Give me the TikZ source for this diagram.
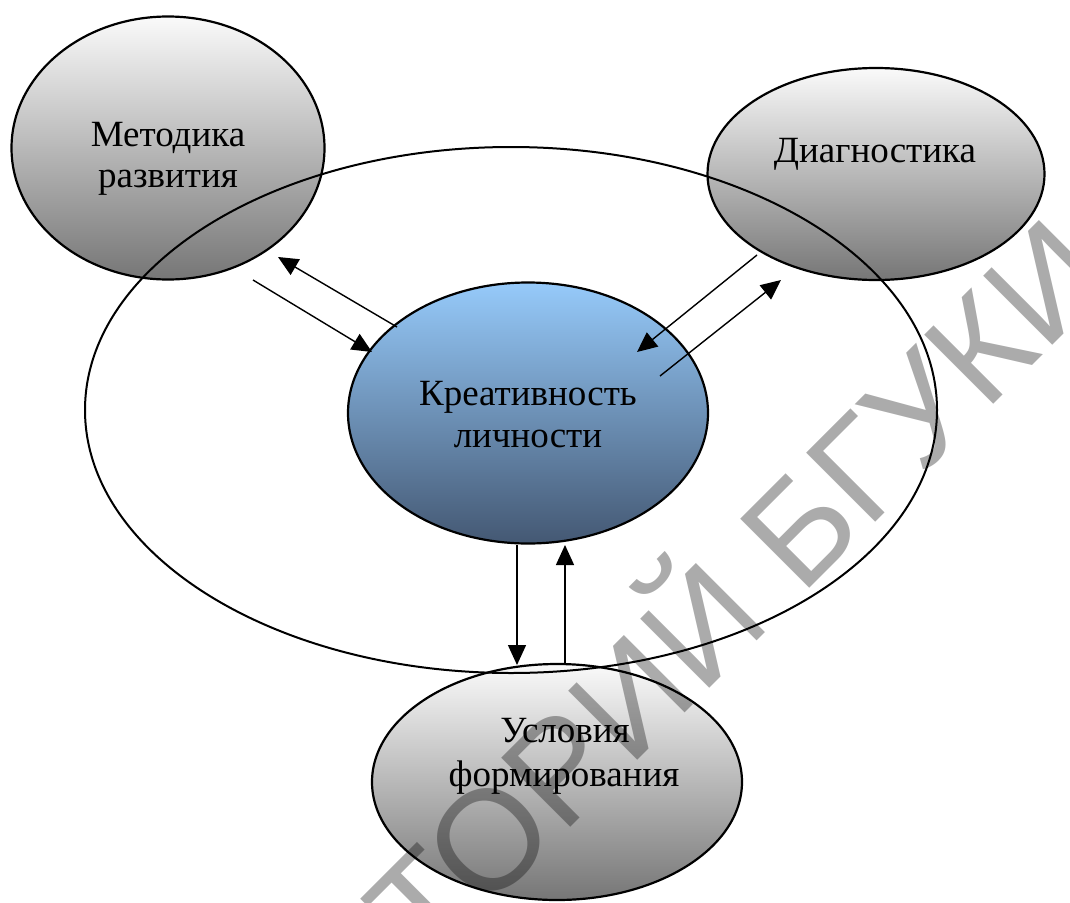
\documentclass[tikz,border=0pt]{standalone}
\usepackage{fontspec}
\setmainfont{Liberation Serif}
\newfontfamily\wmfont{Liberation Sans}
\usetikzlibrary{arrows.meta,shapes.geometric}
\definecolor{gtop}{RGB}{250,250,250}
\definecolor{gbot}{RGB}{118,118,118}
\definecolor{btop}{RGB}{150,202,250}
\definecolor{bbot}{RGB}{68,88,115}
\begin{document}
\begin{tikzpicture}[x=1pt,y=-1pt,
 oval/.style={ellipse, draw=black, line width=2.2pt, inner sep=0pt},
 grayoval/.style={oval, top color=gtop, bottom color=gbot},
 blueoval/.style={oval, top color=btop, bottom color=bbot},
 lbl/.style={anchor=base, inner sep=0pt, font=\fontsize{37}{44}\selectfont},
 arr/.style={line width=1.4pt, -{Triangle[length=20pt,width=18pt]}},
]
\useasboundingbox[fill=white] (0,0) rectangle (1070,902);
% gray ellipses
\node[grayoval, minimum width=313pt, minimum height=263pt] (met) at (168,148) {};
\node[grayoval, minimum width=337pt, minimum height=212pt] (diag) at (876,174) {};
\node[grayoval, minimum width=370pt, minimum height=236pt] (usl) at (557,782) {};
% outer ellipse
\node[ellipse, draw=black, line width=2pt, inner sep=0pt, minimum width=852pt, minimum height=526pt] (outer) at (511,410) {};
% central ellipse
\node[blueoval, minimum width=360pt, minimum height=261pt] (kre) at (528,413) {};
% labels
\node[lbl] (t1) at (168,146) {Методика};
\node[lbl] (t2) at (168,187) {развития};
\node[lbl] (t3) at (875,162) {Диагностика};
\node[lbl] (t4) at (528,405) {Креативность};
\node[lbl] (t5) at (528,447) {личности};
\node[lbl] (t6) at (565,742) {Условия};
\node[lbl] (t7) at (564,786) {формирования};
% arrow end points
\coordinate (a1s) at (253,280); \coordinate (a1e) at (372,352);
\coordinate (a2s) at (397,327); \coordinate (a2e) at (278,257);
\coordinate (a3s) at (757,255); \coordinate (a3e) at (637,352);
\coordinate (a4s) at (660,376); \coordinate (a4e) at (781,280);
\coordinate (a5s) at (517,545); \coordinate (a5e) at (517,665);
\coordinate (a6s) at (565,665); \coordinate (a6e) at (565,545);
\draw[arr] (a1s) -- (a1e);
\draw[arr] (a2s) -- (a2e);
\draw[arr] (a3s) -- (a3e);
\draw[arr] (a4s) -- (a4e);
\draw[arr] (a5s) -- (a5e);
\draw[arr] (a6s) -- (a6e);
% watermark
\node[rotate=45, anchor=base, inner sep=0pt, text=black, text opacity=0.33,
      font=\wmfont\fontsize{142}{142}\selectfont] (wm) at (772,626) {ТОРИЙ БГУКИ};
\end{tikzpicture}
\end{document}
